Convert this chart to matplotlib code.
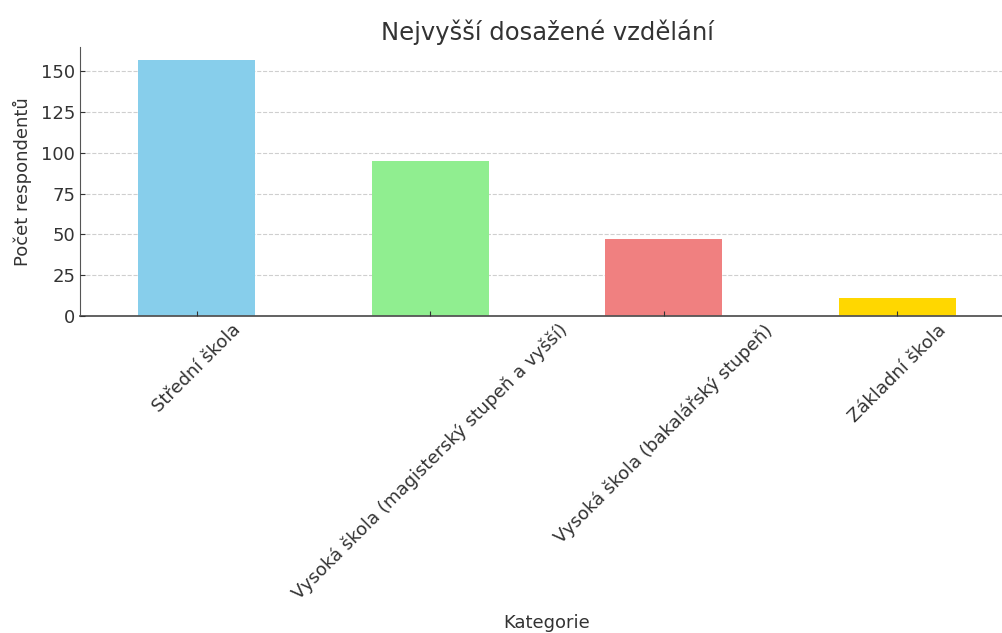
import matplotlib.pyplot as plt

# data
categories = ['Střední škola', 'Vysoká škola (magisterský stupeň a vyšší)',
              'Vysoká škola (bakalářský stupeň)', 'Základní škola']
counts = [157, 95, 47, 11]
colors = ['skyblue', 'lightgreen', 'lightcoral', 'gold']
yticks = [0, 25, 50, 75, 100, 125, 150]

plt.rcParams['font.family'] = ['DejaVu Sans']
plt.rcParams['text.color'] = '#333333'

fig = plt.figure(figsize=(10.03, 6.33), dpi=100)
ax = fig.add_axes([80/1003, 317/633, 934/1003, 269/633])

x = range(len(categories))
ax.bar(x, counts, width=0.5, color=colors, zorder=2)
ax.set_xlim(-0.5, len(categories) - 0.5)
ax.set_ylim(0, 164.7)
ax.set_yticks(yticks)
ax.set_xticks(list(x))
ax.set_xticklabels(categories, rotation=45, ha='center', fontsize=13, color='#333333')
ax.tick_params(axis='y', labelsize=13, labelcolor='#333333')
ax.tick_params(direction='in', color='#333333')
ax.set_axisbelow(False)

# dashed grid behind the bars
for yv in yticks[1:]:
    ax.axhline(yv, linestyle='--', color='#bbbbbb', alpha=0.7, linewidth=0.8, zorder=0)

ax.spines['top'].set_visible(False)
ax.spines['right'].set_visible(False)
ax.spines['left'].set_color('#555555')
ax.spines['bottom'].set_color('#555555')
ax.spines['bottom'].set_linewidth(1.3)

ax.set_title('Nejvyšší dosažené vzdělání', fontsize=17.5, color='#333333', pad=5)
ax.set_ylabel('Počet respondentů', fontsize=13, color='#333333', labelpad=6)
ax.set_xlabel('Kategorie', fontsize=13, color='#333333', labelpad=8)

fig.savefig('out.png', dpi=100)
